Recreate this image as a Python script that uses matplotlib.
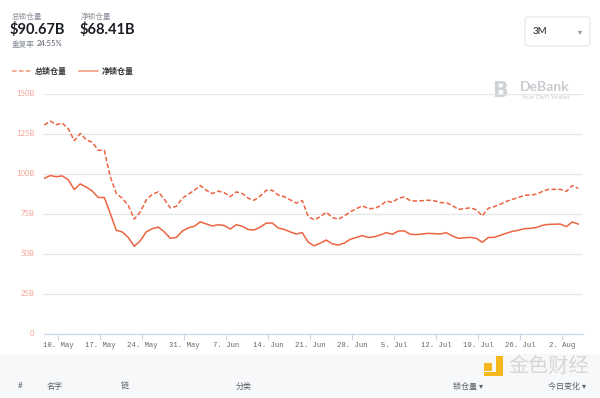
import pandas as pd
import matplotlib
matplotlib.use('Agg')
import matplotlib.pyplot as plt
from matplotlib.patches import FancyBboxPatch, Rectangle

plt.rcParams['font.family'] = ['Lato', 'Noto Sans CJK SC', 'DejaVu Sans']

# daily TVL in billions of USD
total_tvl = [130.3, 132.8, 130.5, 131.5, 128.0, 120.5, 125.0, 121.0, 119.5, 114.5,
             114.5, 98.0, 87.5, 84.5, 80.0, 71.5, 76.0, 83.5, 87.0, 88.5,
             84.0, 78.5, 79.5, 84.5, 87.0, 89.5, 92.5, 89.5, 87.5, 89.0,
             88.0, 85.5, 88.5, 87.5, 84.5, 83.3, 86.0, 89.5, 89.5, 86.5,
             85.5, 83.5, 81.5, 83.0, 73.0, 71.0, 73.0, 75.8, 72.5, 71.4,
             73.5, 76.0, 78.0, 79.8, 78.0, 78.2, 79.7, 82.8, 82.0, 84.5,
             85.3, 83.0, 82.8, 83.0, 83.3, 83.0, 81.8, 81.8, 80.0, 77.6,
             78.0, 78.6, 77.3, 73.5, 78.3, 79.3, 80.8, 82.6, 83.8, 85.0,
             86.4, 86.6, 87.0, 88.8, 90.1, 90.1, 90.1, 88.8, 92.5, 90.67]
net_tvl = [97.0, 98.7, 98.0, 98.5, 96.0, 90.0, 93.5, 91.5, 89.0, 85.0,
           85.0, 75.0, 64.5, 63.5, 60.0, 54.5, 58.0, 63.5, 65.5, 66.5,
           63.5, 59.5, 60.0, 64.0, 66.0, 67.0, 69.8, 68.5, 67.2, 68.0,
           67.5, 65.3, 68.0, 67.0, 65.0, 64.7, 66.5, 69.0, 69.0, 66.0,
           65.0, 63.5, 62.2, 63.0, 57.0, 54.8, 56.5, 58.4, 56.0, 55.3,
           56.5, 58.9, 60.0, 61.2, 60.0, 60.5, 61.6, 63.0, 62.0, 64.0,
           64.2, 62.0, 61.8, 62.2, 62.6, 62.4, 62.2, 63.0, 61.0, 59.5,
           59.8, 60.1, 59.5, 57.0, 60.0, 60.1, 61.3, 62.7, 63.8, 64.5,
           65.5, 65.7, 66.2, 67.6, 68.2, 68.3, 68.4, 66.8, 69.7, 68.41]
dates = pd.date_range('2021-05-07 16:00', periods=len(total_tvl), freq='D')

y_ticks = [0, 25, 50, 75, 100, 125, 150]
y_labels = ['0', '25B', '50B', '75B', '100B', '125B', '150B']
x_ticks = pd.date_range('2021-05-10', '2021-08-02', freq='7D')
x_labels = [f'{d.day}. {d:%b}' for d in x_ticks]

line_color = '#ec6442'
W, H = 600, 398

fig = plt.figure(figsize=(6, 3.98), dpi=100)

# pixel-coordinate overlay for header, legend, watermarks, table header
bg = fig.add_axes([0, 0, 1, 1])
bg.set_xlim(0, W)
bg.set_ylim(H, 0)
bg.axis('off')
bg.set_zorder(-1)

bg.text(12, 16, '总锁仓量', fontsize=5.5, color='#8a8f99', va='center')
bg.text(10, 29, '$90.67B', fontsize=10.5, color='#1b1e24', weight='bold', va='center')
bg.text(81, 16, '净锁仓量', fontsize=5.5, color='#8a8f99', va='center')
bg.text(80, 29, '$68.41B', fontsize=10.5, color='#1b1e24', weight='bold', va='center')
bg.text(12, 44, '重复率', fontsize=5.5, color='#8a8f99', va='center')
bg.text(37, 44, '24.55%', fontsize=5.5, color='#555b66', va='center')

# legend
bg.plot([12, 31], [71, 71], color='#ef9478', lw=1.1, dashes=(3, 1.5))
bg.text(35, 71, '总锁仓量', fontsize=5.8, color='#333333', weight='bold', va='center')
bg.plot([79, 98], [71, 71], color='#ef9478', lw=1.1)
bg.text(102, 71, '净锁仓量', fontsize=5.8, color='#333333', weight='bold', va='center')

# period selector
bg.add_patch(FancyBboxPatch((525, 17), 65, 29, boxstyle='round,pad=0,rounding_size=3',
                            fc='white', ec='#e3e5e8', lw=0.8))
bg.text(533, 31.5, '3M', fontsize=7, color='#222222', va='center')
bg.text(580, 31.5, '▾', fontsize=6, color='#999999', va='center', ha='center',
        family='DejaVu Sans')

# DeBank watermark
bg.text(500, 91, 'B', fontsize=15, color='#cfd2d6', weight='bold', va='center', ha='center',
        family='DejaVu Sans')
bg.text(520, 87, 'DeBank', fontsize=10, color='#c9ccd1', weight='bold', va='center')
bg.text(521, 97.5, 'Your DeFi Wallet', fontsize=4.6, color='#c9ccd1', va='center')

# table header band
bg.add_patch(Rectangle((0, 354), W, 44, fc='#f7f8fa', ec='none'))
for x, s in [(18, '#'), (47, '名字'), (121, '链'), (236, '分类'), (453, '锁仓量 ▾'), (548, '今日变化 ▾')]:
    bg.text(x, 386, s, fontsize=5.8, color='#5a5f69', va='center')

# 金色财经 watermark
bg.add_patch(Rectangle((484, 363), 8, 8, fc='#f5b81c', ec='none'))
bg.add_patch(Rectangle((496, 356), 7, 20, fc='#f5b81c', ec='none'))
bg.add_patch(Rectangle((484, 372), 19, 4, fc='#f5b81c', ec='none'))
bg.text(508, 366, '金色财经', fontsize=14.5, color='#d6d6d6', va='center',
        family=['Noto Sans CJK SC'])

# main chart
ax = fig.add_axes([44 / W, 1 - 333.5 / H, 539 / W, 240 / H])
ax.patch.set_facecolor('none')
ref = pd.Timestamp('2021-05-10')
ax.set_xlim(ref - pd.Timedelta(days=2.38), ref + pd.Timedelta(days=87.45))
ax.set_ylim(0, 150)

ax.plot(dates, total_tvl, color=line_color, lw=1.1, dashes=(3, 1.5))
ax.plot(dates, net_tvl, color=line_color, lw=1.1)

ax.set_yticks(y_ticks)
ax.set_yticklabels(y_labels)
ax.yaxis.grid(True, color='#e6e6e6', lw=0.9)
ax.set_axisbelow(True)
ax.tick_params(axis='y', length=0, labelsize=5.5, labelcolor='#f2a094', pad=7)

ax.set_xticks(x_ticks)
ax.set_xticklabels(x_labels, family='Liberation Mono')
ax.tick_params(axis='x', length=4, width=0.8, color='#ccd6eb', labelsize=5.2,
               labelcolor='#666666', pad=2)

for side in ['top', 'left', 'right']:
    ax.spines[side].set_visible(False)
ax.spines['bottom'].set_color('#ccd6eb')
ax.spines['bottom'].set_linewidth(0.9)

fig.savefig('out.png', dpi=100)
